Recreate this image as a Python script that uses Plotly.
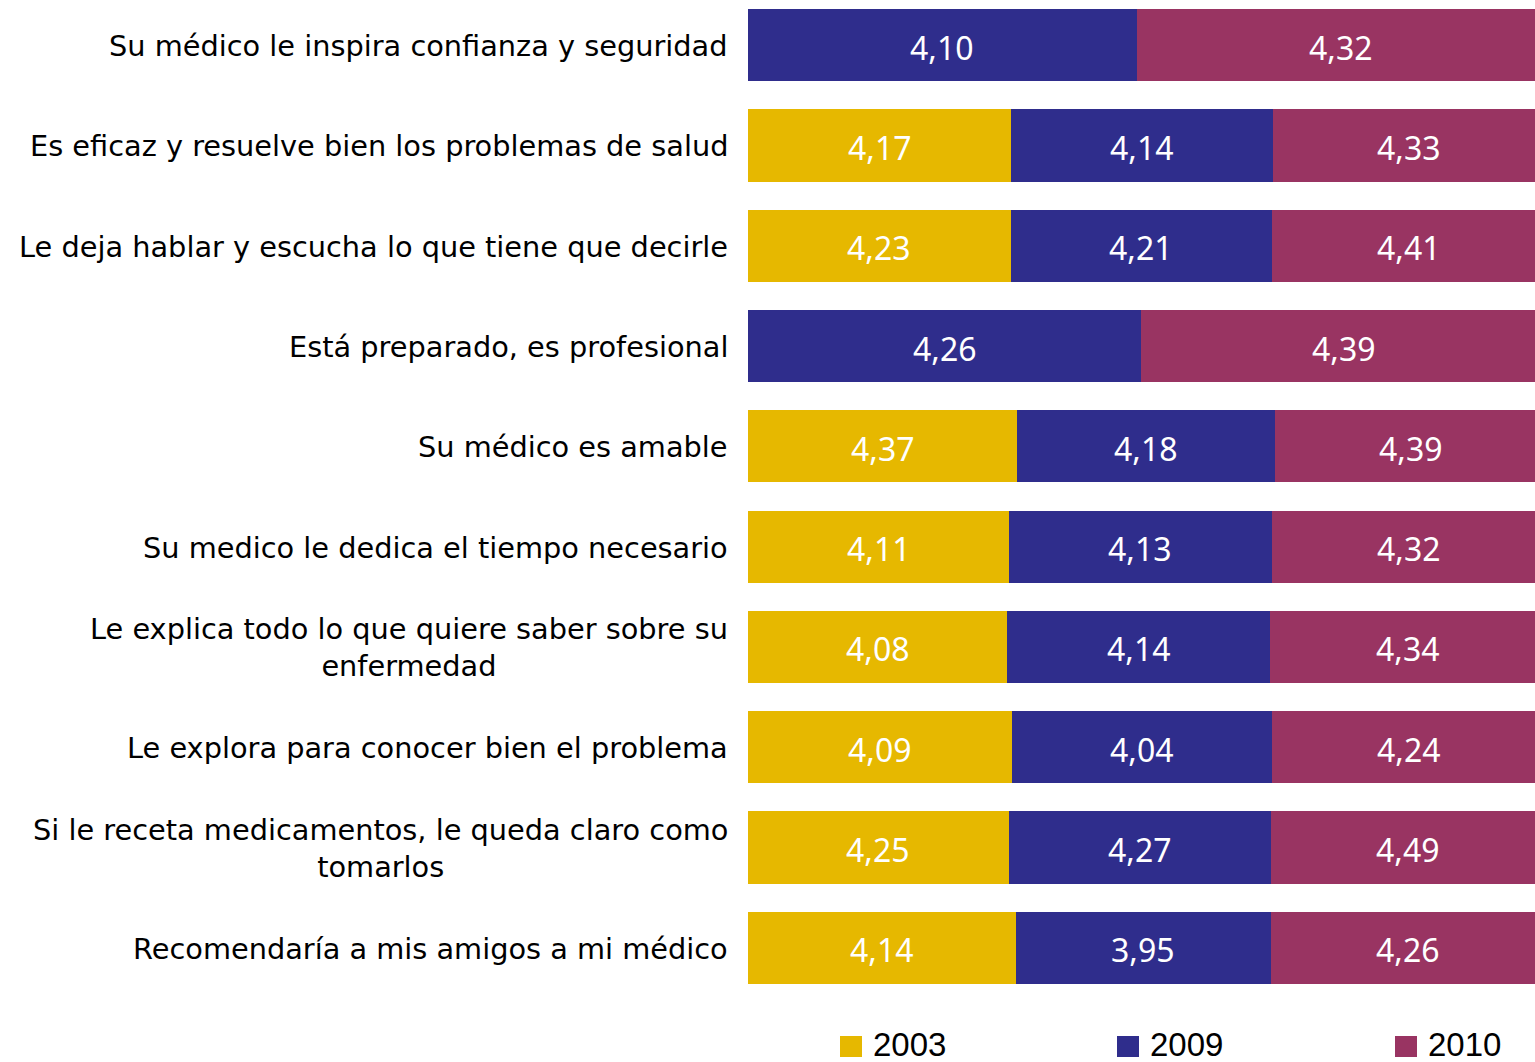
import plotly.graph_objects as go

categories = [
    "Su médico le inspira confianza y seguridad",
    "Es eficaz y resuelve bien los problemas de salud",
    "Le deja hablar y escucha lo que tiene que decirle",
    "Está preparado, es profesional",
    "Su médico es amable",
    "Su medico le dedica el tiempo necesario",
    "Le explica todo lo que quiere saber sobre su<br>enfermedad",
    "Le explora para conocer bien el problema",
    "Si le receta medicamentos, le queda claro como<br>tomarlos",
    "Recomendaría a mis amigos a mi médico",
]
v2003 = [None, 4.17, 4.23, None, 4.37, 4.11, 4.08, 4.09, 4.25, 4.14]
v2009 = [4.10, 4.14, 4.21, 4.26, 4.18, 4.13, 4.14, 4.04, 4.27, 3.95]
v2010 = [4.32, 4.33, 4.41, 4.39, 4.39, 4.32, 4.34, 4.24, 4.49, 4.26]
series_names = ["2003", "2009", "2010"]
colors = ["#E6B800", "#2F2D8C", "#993462"]

series = [v2003, v2009, v2010]
ids = list(range(len(categories)))

totals = [sum(s[i] or 0 for s in series) for i in ids]
fracs = [[(s[i] or 0) / totals[i] for i in ids] for s in series]

fig = go.Figure()
for name, fr, col in zip(series_names, fracs, colors):
    fig.add_trace(go.Bar(
        y=ids, x=fr, orientation="h", name=name,
        marker=dict(color=col, line=dict(width=0)),
        showlegend=False, hoverinfo="skip",
    ))

annotations = []

# value labels at segment centres
for i in ids:
    start = 0.0
    for s, fr in zip(series, fracs):
        if s[i] is not None:
            annotations.append(dict(
                x=start + fr[i] / 2, xref="x", y=i, yref="y",
                xanchor="center", yanchor="middle", yshift=-2,
                text=f"{s[i]:.2f}".replace(".", ","), showarrow=False,
                font=dict(color="white", size=32, family="Noto Sans"),
            ))
        start += fr[i]

for i, c in zip(ids, categories):
    annotations.append(dict(
        x=0, xref="paper", y=i, yref="y", xanchor="right", yanchor="middle",
        xshift=-18, yshift=-1, text=c, showarrow=False, align="center",
        font=dict(size=28.8, color="black", family="DejaVu Sans"),
    ))

# manual legend
shapes = []
W, H = 787.0, 1000.0
legend_px = [840, 1117, 1395]
for name, col, px in zip(series_names, colors, legend_px):
    shapes.append(dict(
        type="rect", xref="paper", yref="paper",
        x0=(px - 748) / W, x1=(px + 22 - 748) / W,
        y0=(1000 - 1057) / H, y1=(1000 - 1036) / H,
        fillcolor=col, line=dict(width=0),
    ))
    annotations.append(dict(
        x=(px + 31 - 748) / W, xref="paper", y=(1000 - 1044) / H, yref="paper",
        xanchor="left", yanchor="middle", text=name, showarrow=False,
        font=dict(size=33, color="black", family="Liberation Sans"),
    ))

fig.update_layout(
    barmode="stack", bargap=0.28,
    width=1535, height=1062,
    margin=dict(l=748, r=0, t=0, b=62),
    paper_bgcolor="white", plot_bgcolor="white",
    xaxis=dict(range=[0, 787 / 798], visible=False, fixedrange=True),
    yaxis=dict(range=[9.52, -0.45], visible=False, fixedrange=True),
    annotations=annotations, shapes=shapes,
)

fig.write_html(
    "out.html",
    config={"displayModeBar": False},
    post_script="document.body.style.margin='0';document.body.style.overflow='hidden';",
)
